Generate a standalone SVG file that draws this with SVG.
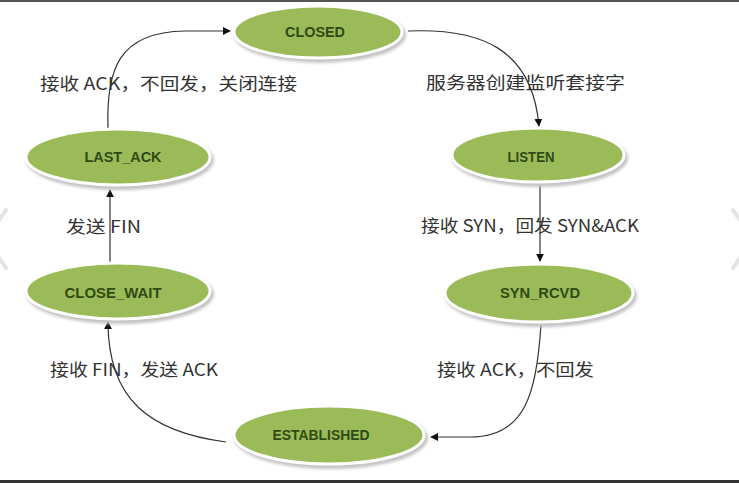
<svg xmlns="http://www.w3.org/2000/svg" width="739" height="483" viewBox="0 0 739 483">
  <style>
    .state ellipse.body { fill: #9bbb59; stroke: #ffffff; stroke-width: 3; }
    .state ellipse.shade { fill: #c4c4c4; filter: url(#soft); }
    .state text { font-family: "Liberation Sans", Arial, sans-serif; font-size: 14px; font-weight: bold; fill: #2f4b15; text-anchor: middle; }
    .label { font-family: "Noto Sans CJK SC", "Liberation Sans", sans-serif; font-size: 17px; fill: #333333; }
    .edge { fill: none; stroke: #333333; stroke-width: 1.2; marker-end: url(#arrow); }
    .chev { fill: none; stroke: #e4e4e4; stroke-width: 4; stroke-linecap: round; }
  </style>
  <defs>
    <filter id="soft" x="-20%" y="-40%" width="140%" height="180%">
      <feGaussianBlur stdDeviation="1.6"/>
    </filter>
    <marker id="arrow" viewBox="0 0 10 10" refX="9" refY="5" markerWidth="8" markerHeight="8" markerUnits="userSpaceOnUse" orient="auto">
      <path d="M0,0 L10,5 L0,10 z" fill="#111111"/>
    </marker>
  </defs>

  <!-- page background and frame lines -->
  <rect x="0" y="0" width="739" height="483" fill="#ffffff"/>
  <rect x="0" y="0" width="739" height="2" fill="#555555"/>
  <rect x="0" y="480" width="739" height="3" fill="#333333"/>
  <!-- faint side chevrons -->
  <polyline class="chev" points="6,210 -14,239 6,268"/>
  <polyline class="chev" points="733,210 753,239 733,268"/>

  <!-- transitions -->
  <g id="connectors">
    <path class="edge" d="M108,128 C106,70 118,32 185,31 L230,31"/>
    <path class="edge" d="M408,31 C480,28 532,48 539,126"/>
    <path class="edge" d="M540,185 L540,261"/>
    <path class="edge" d="M541,325 C536,395 525,437 470,437 L431,437"/>
    <path class="edge" d="M226,442 C150,432 108,400 108,322"/>
    <path class="edge" d="M110,262 L110,190"/>
  </g>

  <!-- states -->
  <g id="closed" class="state">
    <ellipse class="shade" cx="320" cy="35" rx="86" ry="28"/>
    <ellipse class="body" cx="318" cy="32" rx="84" ry="26"/>
    <text x="315" y="37" textLength="60" lengthAdjust="spacingAndGlyphs">CLOSED</text>
  </g>
  <g id="last_ack" class="state">
    <ellipse class="shade" cx="120" cy="160" rx="94" ry="30"/>
    <ellipse class="body" cx="118" cy="157" rx="92" ry="28"/>
    <text x="123" y="162" textLength="77" lengthAdjust="spacingAndGlyphs">LAST_ACK</text>
  </g>
  <g id="listen" class="state">
    <ellipse class="shade" cx="540" cy="158" rx="88" ry="29"/>
    <ellipse class="body" cx="538" cy="155" rx="86" ry="27"/>
    <text x="531" y="162" textLength="47" lengthAdjust="spacingAndGlyphs">LISTEN</text>
  </g>
  <g id="close_wait" class="state">
    <ellipse class="shade" cx="120" cy="294" rx="94" ry="30"/>
    <ellipse class="body" cx="118" cy="291" rx="92" ry="28"/>
    <text x="113" y="298" textLength="97" lengthAdjust="spacingAndGlyphs">CLOSE_WAIT</text>
  </g>
  <g id="syn_rcvd" class="state">
    <ellipse class="shade" cx="541" cy="296" rx="96" ry="31"/>
    <ellipse class="body" cx="539" cy="293" rx="94" ry="29"/>
    <text x="540" y="298" textLength="80" lengthAdjust="spacingAndGlyphs">SYN_RCVD</text>
  </g>
  <g id="established" class="state">
    <ellipse class="shade" cx="331" cy="438" rx="97" ry="31"/>
    <ellipse class="body" cx="329" cy="435" rx="95" ry="29"/>
    <text x="321" y="440" textLength="97" lengthAdjust="spacingAndGlyphs">ESTABLISHED</text>
  </g>

  <!-- transition labels -->
  <g id="labels">
    <text class="label" x="40" y="90" textLength="257" lengthAdjust="spacingAndGlyphs">接收 ACK，不回发，关闭连接</text>
    <text class="label" x="426" y="89" textLength="199" lengthAdjust="spacingAndGlyphs">服务器创建监听套接字</text>
    <text class="label" x="421" y="232" textLength="218" lengthAdjust="spacingAndGlyphs">接收 SYN，回发 SYN&amp;ACK</text>
    <text class="label" x="66" y="233" textLength="75" lengthAdjust="spacingAndGlyphs">发送 FIN</text>
    <text class="label" x="50" y="376" textLength="168" lengthAdjust="spacingAndGlyphs">接收 FIN，发送 ACK</text>
    <text class="label" x="437" y="376" textLength="157" lengthAdjust="spacingAndGlyphs">接收 ACK，不回发</text>
  </g>
</svg>
